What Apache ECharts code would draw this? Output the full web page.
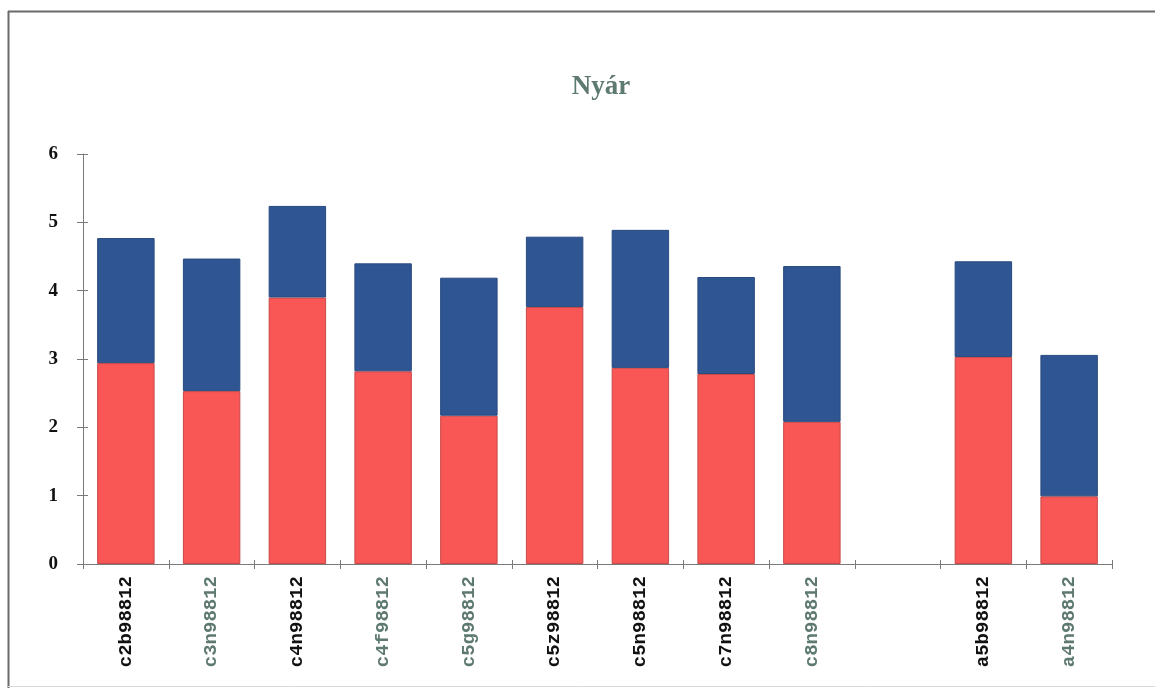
<!DOCTYPE html>
<html>
<head>
<meta charset="utf-8">
<script src="https://cdn.jsdelivr.net/npm/echarts@6/dist/echarts.min.js"></script>
<style>
  html, body { margin: 0; padding: 0; background: #ffffff; }
  #chart { width: 1155px; height: 688px; }
</style>
</head>
<body>
<div id="chart"></div>
<script>
// Sample codes along the x axis (one empty slot separates the two groups)
const categories = ['c2b98812', 'c3n98812', 'c4n98812', 'c4f98812', 'c5g98812',
  'c5z98812', 'c5n98812', 'c7n98812', 'c8n98812', '', 'a5b98812', 'a4n98812'];
// Label colour group per category: 0 = black, 1 = grey-green
const labelGroup = [0, 1, 0, 1, 1, 0, 0, 0, 1, 0, 0, 1];
// Lower (red) segment values
const lowerValues = [2.94, 2.53, 3.90, 2.82, 2.17, 3.76, 2.87, 2.78, 2.08, null, 3.03, 0.99];
// Upper (blue) segment values, stacked on top of the red ones
const upperValues = [1.83, 1.94, 1.34, 1.58, 2.02, 1.03, 2.02, 1.42, 2.28, null, 1.40, 2.07];
const yTicks = [0, 1, 2, 3, 4, 5, 6];

const labelColors = ['#111111', '#5e7a70'];

const chart = echarts.init(document.getElementById('chart'), null, { renderer: 'canvas' });

const axisLineStyle = { color: '#7a7a7a', width: 1 };

chart.setOption({
  animation: false,
  backgroundColor: '#ffffff',
  title: {
    text: 'Nyár',
    left: 596,
    textAlign: 'center',
    top: 69,
    textStyle: {
      fontFamily: 'Liberation Serif',
      fontWeight: 'bold',
      fontSize: 27,
      color: '#5e7a70'
    }
  },
  graphic: [
    { type: 'line', shape: { x1: 8.5, y1: 11, x2: 8.5, y2: 688 }, style: { stroke: '#6a6a6a', lineWidth: 2 } },
    { type: 'line', shape: { x1: 8, y1: 11.5, x2: 1155, y2: 11.5 }, style: { stroke: '#6a6a6a', lineWidth: 2 } },
    { type: 'line', shape: { x1: 8, y1: 686.5, x2: 1155, y2: 686.5 }, style: { stroke: '#d8d8d8', lineWidth: 1 } }
  ],
  grid: { left: 83, right: 43, top: 154, bottom: 124, containLabel: false },
  xAxis: [{
    type: 'category',
    data: categories.map((c, i) => ({
      value: c,
      textStyle: { color: labelColors[labelGroup[i]] }
    })),
    axisLine: { lineStyle: axisLineStyle },
    axisTick: { show: true, length: 5, lineStyle: axisLineStyle },
    axisLabel: {
      rotate: 90,
      margin: 12,
      fontFamily: 'Liberation Mono',
      fontWeight: 'bold',
      fontSize: 19,
      interval: 0
    },
    splitLine: { show: false }
  }, {
    // second copy of the category axis for the inward half of the ticks
    type: 'category',
    position: 'bottom',
    data: categories,
    axisLine: { show: false },
    axisTick: { show: true, inside: true, length: 4, lineStyle: axisLineStyle },
    axisLabel: { show: false }
  }],
  yAxis: [{
    type: 'value',
    min: yTicks[0],
    max: yTicks[yTicks.length - 1],
    interval: 1,
    axisLine: { show: true, lineStyle: axisLineStyle },
    axisTick: { show: true, length: 6, lineStyle: axisLineStyle },
    axisLabel: {
      margin: 25,
      fontFamily: 'Liberation Serif',
      fontWeight: 'bold',
      fontSize: 19,
      color: '#111111'
    },
    splitLine: { show: false }
  }, {
    type: 'value',
    position: 'left',
    min: yTicks[0],
    max: yTicks[yTicks.length - 1],
    interval: 1,
    axisLine: { show: false },
    axisTick: { show: true, inside: true, length: 5, lineStyle: axisLineStyle },
    axisLabel: { show: false },
    splitLine: { show: false }
  }],
  series: [{
    name: 'lower',
    type: 'bar',
    stack: 'total',
    data: lowerValues,
    barCategoryGap: '33%',
    itemStyle: { color: '#f95656', borderColor: '#c94848', borderWidth: 1 }
  }, {
    name: 'upper',
    type: 'bar',
    stack: 'total',
    data: upperValues,
    barCategoryGap: '33%',
    itemStyle: { color: '#2f5592', borderColor: '#284a80', borderWidth: 1 }
  }]
});
</script>
</body>
</html>
